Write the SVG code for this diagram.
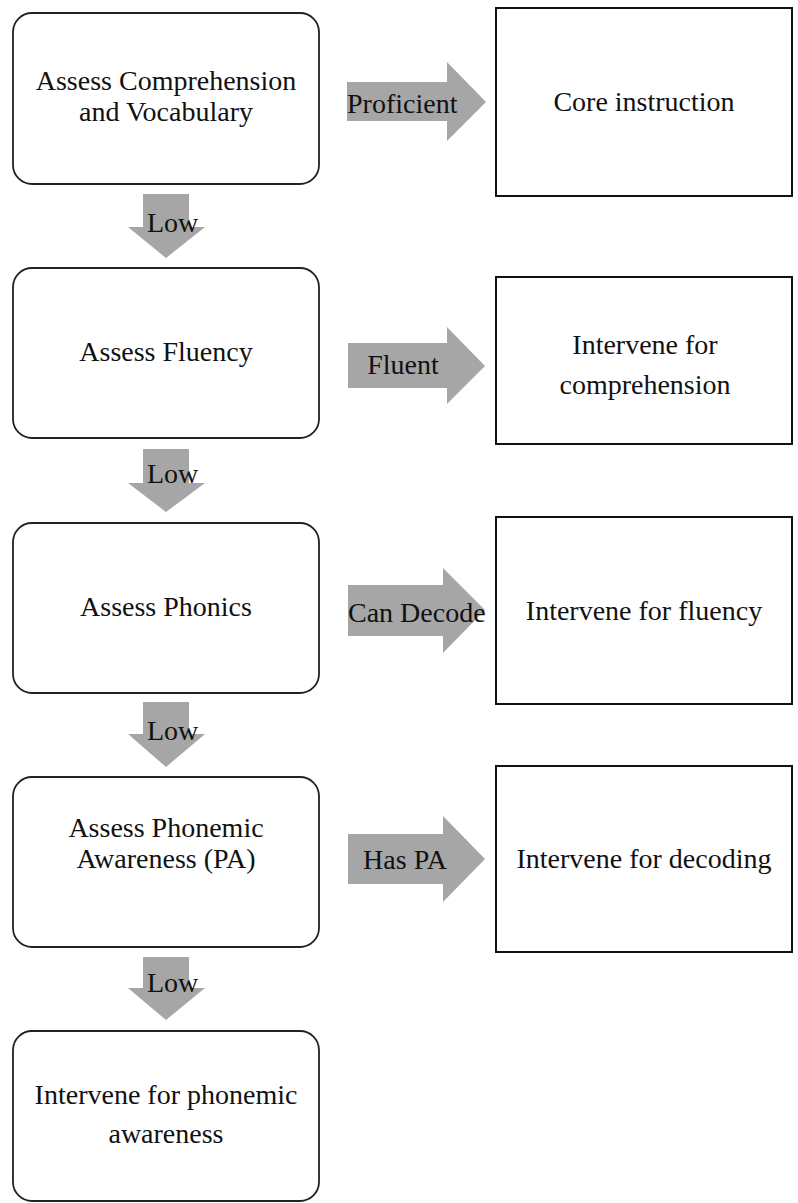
<svg xmlns="http://www.w3.org/2000/svg" width="798" height="1203" viewBox="0 0 798 1203" font-family="'Liberation Serif', 'DejaVu Serif', serif">
<style>
.rbox{fill:#fff;stroke:#222;stroke-width:1.8}
.sbox{fill:#fff;stroke:#111;stroke-width:2}
.arr{fill:#a6a6a6;stroke:none}
text{font-family:'Liberation Serif','Times New Roman','DejaVu Serif',serif;font-size:28px;fill:#111}
.c{text-anchor:middle}
</style>
<rect width="798" height="1203" fill="#fff"/>
<g id="connectors">
<polygon class="arr" points="347,82 447,82 447,62 486,102 447,141 447,121 347,121"/>
<text x="347" y="113">Proficient</text>
<polygon class="arr" points="348,343 447,343 447,327 485,366 447,404 447,388 348,388"/>
<text class="c" x="403" y="374">Fluent</text>
<polygon class="arr" points="348,585 443,585 443,568 485,610 443,653 443,636 348,636"/>
<text x="348" y="622">Can Decode</text>
<polygon class="arr" points="348,834 443,834 443,816 485,859 443,902 443,884 348,884"/>
<text class="c" x="405" y="869">Has PA</text>
<polygon class="arr" points="143,194 189,194 189,227 205,227 166,258 128,227 143,227"/>
<text x="147" y="232">Low</text>
<polygon class="arr" points="143,449 189,449 189,483 205,483 166,512 128,483 143,483"/>
<text x="147" y="483">Low</text>
<polygon class="arr" points="143,702 189,702 189,734 205,734 166,767 128,734 143,734"/>
<text x="147" y="740">Low</text>
<polygon class="arr" points="143,957 189,957 189,988 205,988 166,1020 128,988 143,988"/>
<text x="147" y="992">Low</text>
</g>
<g id="n1"><rect class="rbox" x="13" y="13" width="306" height="171" rx="19"/><text class="c"><tspan x="166" y="90">Assess Comprehension</tspan><tspan x="166" y="121">and Vocabulary</tspan></text></g>
<g id="n2"><rect class="rbox" x="13" y="268" width="306" height="170" rx="19"/><text class="c" x="166" y="361">Assess Fluency</text></g>
<g id="n3"><rect class="rbox" x="13" y="523" width="306" height="170" rx="19"/><text class="c" x="166" y="616">Assess Phonics</text></g>
<g id="n4"><rect class="rbox" x="13" y="777" width="306" height="170" rx="19"/><text class="c"><tspan x="166" y="837">Assess Phonemic</tspan><tspan x="166" y="868">Awareness (PA)</tspan></text></g>
<g id="n5"><rect class="rbox" x="13" y="1031" width="306" height="170" rx="19"/><text class="c"><tspan x="166" y="1104">Intervene for phonemic</tspan><tspan x="166" y="1143">awareness</tspan></text></g>
<g id="r1"><rect class="sbox" x="496" y="8" width="296" height="188"/><text class="c" x="644" y="111">Core instruction</text></g>
<g id="r2"><rect class="sbox" x="496" y="277" width="296" height="167"/><text class="c"><tspan x="645" y="354">Intervene for</tspan><tspan x="645" y="394">comprehension</tspan></text></g>
<g id="r3"><rect class="sbox" x="496" y="517" width="296" height="187"/><text class="c" x="644" y="620">Intervene for fluency</text></g>
<g id="r4"><rect class="sbox" x="496" y="766" width="296" height="186"/><text class="c" x="644" y="868">Intervene for decoding</text></g>
</svg>
